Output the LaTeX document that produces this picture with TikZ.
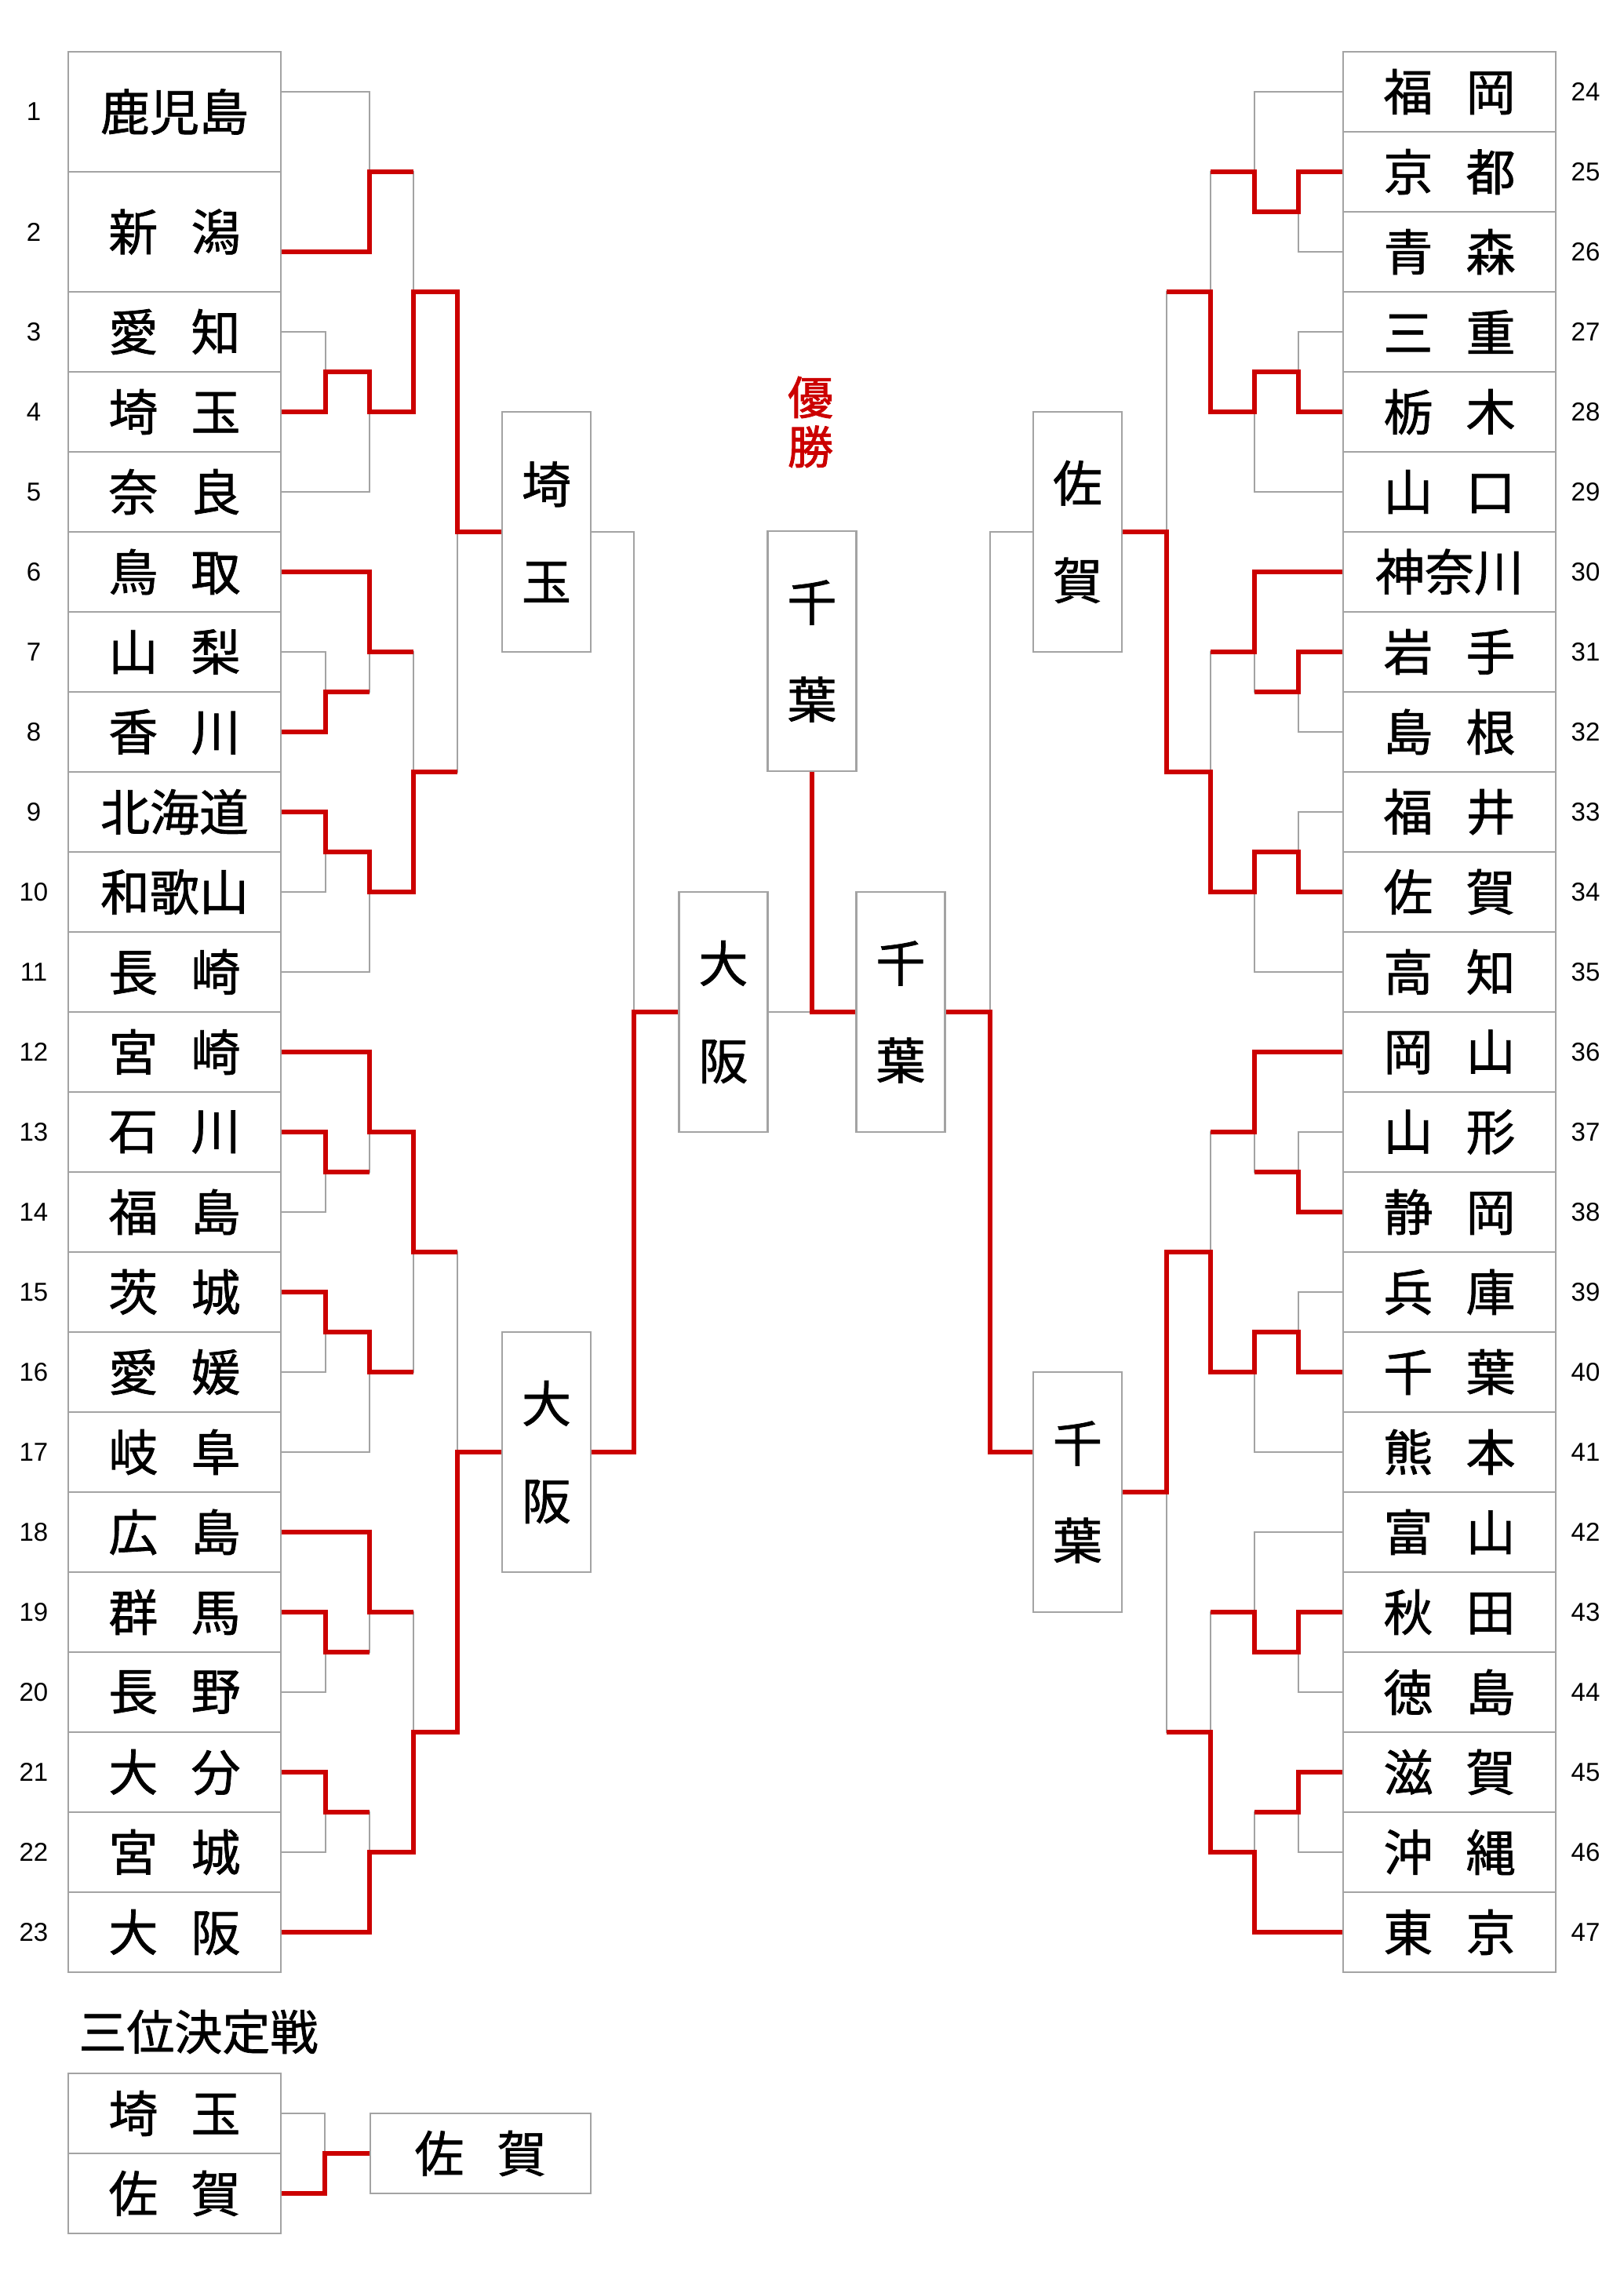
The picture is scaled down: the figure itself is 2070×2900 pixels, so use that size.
\documentclass[tikz,border=0pt]{standalone}
\usepackage{fontspec}
\setmainfont{Liberation Sans}
\newfontfamily\jp[FakeBold=1.1]{Noto Sans CJK JP}
\newfontfamily\jpb[FakeBold=1.6]{Noto Sans CJK JP}
\definecolor{linegrey}{HTML}{A3A3A3}
\definecolor{winred}{HTML}{CC0000}
\newcommand{\tgap}{\hspace{0.67em}}

\tikzset{
	team/.style={draw=linegrey, line width=1.2pt, minimum width=135.5pt, minimum height=51pt, inner sep=0pt, font=\jp\fontsize{31.5}{36}\selectfont},
	tall/.style={team, minimum height=76.5pt},
	vbox/.style={draw=linegrey, line width=1.2pt, minimum width=56.5pt, minimum height=153pt, inner sep=0pt, align=center, font=\jp\fontsize{31.5}{62}\selectfont},
	num/.style={inner sep=0pt, font=\fontsize{16.5}{18}\selectfont},
	lose/.style={draw=linegrey, line width=1.2pt},
	win/.style={draw=winred, line width=3.4pt},
}

\begin{document}
\begin{tikzpicture}[x=0.5pt, y=-0.5pt]
	\useasboundingbox (0,0) rectangle (2070,2900);

	% left block
	\node[tall] (L1) at (222.5,142.5) {鹿児島};
	\node[tall] (L2) at (222.5,295.5) {新\tgap 潟};
	\node[team] (L3) at (222.5,423) {愛\tgap 知};
	\node[team] (L4) at (222.5,525) {埼\tgap 玉};
	\node[team] (L5) at (222.5,627) {奈\tgap 良};
	\node[team] (L6) at (222.5,729) {鳥\tgap 取};
	\node[team] (L7) at (222.5,831) {山\tgap 梨};
	\node[team] (L8) at (222.5,933) {香\tgap 川};
	\node[team] (L9) at (222.5,1035) {北海道};
	\node[team] (L10) at (222.5,1137) {和歌山};
	\node[team] (L11) at (222.5,1239) {長\tgap 崎};
	\node[team] (L12) at (222.5,1341) {宮\tgap 崎};
	\node[team] (L13) at (222.5,1443) {石\tgap 川};
	\node[team] (L14) at (222.5,1545) {福\tgap 島};
	\node[team] (L15) at (222.5,1647) {茨\tgap 城};
	\node[team] (L16) at (222.5,1749) {愛\tgap 媛};
	\node[team] (L17) at (222.5,1851) {岐\tgap 阜};
	\node[team] (L18) at (222.5,1953) {広\tgap 島};
	\node[team] (L19) at (222.5,2055) {群\tgap 馬};
	\node[team] (L20) at (222.5,2157) {長\tgap 野};
	\node[team] (L21) at (222.5,2259) {大\tgap 分};
	\node[team] (L22) at (222.5,2361) {宮\tgap 城};
	\node[team] (L23) at (222.5,2463) {大\tgap 阪};

	\node[num] (N1) at (43,142.5) {1};
	\node[num] (N2) at (43,295.5) {2};
	\node[num] (N3) at (43,423) {3};
	\node[num] (N4) at (43,525) {4};
	\node[num] (N5) at (43,627) {5};
	\node[num] (N6) at (43,729) {6};
	\node[num] (N7) at (43,831) {7};
	\node[num] (N8) at (43,933) {8};
	\node[num] (N9) at (43,1035) {9};
	\node[num] (N10) at (43,1137) {10};
	\node[num] (N11) at (43,1239) {11};
	\node[num] (N12) at (43,1341) {12};
	\node[num] (N13) at (43,1443) {13};
	\node[num] (N14) at (43,1545) {14};
	\node[num] (N15) at (43,1647) {15};
	\node[num] (N16) at (43,1749) {16};
	\node[num] (N17) at (43,1851) {17};
	\node[num] (N18) at (43,1953) {18};
	\node[num] (N19) at (43,2055) {19};
	\node[num] (N20) at (43,2157) {20};
	\node[num] (N21) at (43,2259) {21};
	\node[num] (N22) at (43,2361) {22};
	\node[num] (N23) at (43,2463) {23};

	% right block
	\node[team] (R24) at (1847.5,117) {福\tgap 岡};
	\node[team] (R25) at (1847.5,219) {京\tgap 都};
	\node[team] (R26) at (1847.5,321) {青\tgap 森};
	\node[team] (R27) at (1847.5,423) {三\tgap 重};
	\node[team] (R28) at (1847.5,525) {栃\tgap 木};
	\node[team] (R29) at (1847.5,627) {山\tgap 口};
	\node[team] (R30) at (1847.5,729) {神奈川};
	\node[team] (R31) at (1847.5,831) {岩\tgap 手};
	\node[team] (R32) at (1847.5,933) {島\tgap 根};
	\node[team] (R33) at (1847.5,1035) {福\tgap 井};
	\node[team] (R34) at (1847.5,1137) {佐\tgap 賀};
	\node[team] (R35) at (1847.5,1239) {高\tgap 知};
	\node[team] (R36) at (1847.5,1341) {岡\tgap 山};
	\node[team] (R37) at (1847.5,1443) {山\tgap 形};
	\node[team] (R38) at (1847.5,1545) {静\tgap 岡};
	\node[team] (R39) at (1847.5,1647) {兵\tgap 庫};
	\node[team] (R40) at (1847.5,1749) {千\tgap 葉};
	\node[team] (R41) at (1847.5,1851) {熊\tgap 本};
	\node[team] (R42) at (1847.5,1953) {富\tgap 山};
	\node[team] (R43) at (1847.5,2055) {秋\tgap 田};
	\node[team] (R44) at (1847.5,2157) {徳\tgap 島};
	\node[team] (R45) at (1847.5,2259) {滋\tgap 賀};
	\node[team] (R46) at (1847.5,2361) {沖\tgap 縄};
	\node[team] (R47) at (1847.5,2463) {東\tgap 京};

	\node[num] (N24) at (2021,117) {24};
	\node[num] (N25) at (2021,219) {25};
	\node[num] (N26) at (2021,321) {26};
	\node[num] (N27) at (2021,423) {27};
	\node[num] (N28) at (2021,525) {28};
	\node[num] (N29) at (2021,627) {29};
	\node[num] (N30) at (2021,729) {30};
	\node[num] (N31) at (2021,831) {31};
	\node[num] (N32) at (2021,933) {32};
	\node[num] (N33) at (2021,1035) {33};
	\node[num] (N34) at (2021,1137) {34};
	\node[num] (N35) at (2021,1239) {35};
	\node[num] (N36) at (2021,1341) {36};
	\node[num] (N37) at (2021,1443) {37};
	\node[num] (N38) at (2021,1545) {38};
	\node[num] (N39) at (2021,1647) {39};
	\node[num] (N40) at (2021,1749) {40};
	\node[num] (N41) at (2021,1851) {41};
	\node[num] (N42) at (2021,1953) {42};
	\node[num] (N43) at (2021,2055) {43};
	\node[num] (N44) at (2021,2157) {44};
	\node[num] (N45) at (2021,2259) {45};
	\node[num] (N46) at (2021,2361) {46};
	\node[num] (N47) at (2021,2463) {47};

	% semis, final, champion
	\node[vbox] (S1) at (696.5,678) {埼\\玉};
	\node[vbox] (S2) at (696.5,1851) {大\\阪};
	\node[vbox] (S3) at (1373.5,678) {佐\\賀};
	\node[vbox] (S4) at (1373.5,1902) {千\\葉};
	\node[vbox] (F1) at (922,1290) {大\\阪};
	\node[vbox] (F2) at (1148,1290) {千\\葉};
	\node[vbox] (C) at (1035,830) {千\\葉};
	\node[text=winred, align=center, inner sep=0pt, font=\jpb\fontsize{29}{31.5}\selectfont] (V) at (1033,538) {優\\勝};

	% third place
	\node[anchor=west, inner sep=0pt, font=\jp\fontsize{30.5}{32}\selectfont] (T0) at (100,2590) {三位決定戦};
	\node[team] (T1) at (222.5,2694) {埼\tgap 玉};
	\node[team] (T2) at (222.5,2796) {佐\tgap 賀};
	\node[team, minimum width=140.5pt] (T3) at (612.5,2745) {佐\tgap 賀};

	% round columns
	\coordinate (LA) at (415,0);
	\coordinate (LB) at (471,0);
	\coordinate (LC) at (527,0);
	\coordinate (LD) at (583,0);
	\coordinate (RA) at (1655,0);
	\coordinate (RB) at (1599,0);
	\coordinate (RC) at (1543,0);
	\coordinate (RD) at (1487,0);

	% left joins
	\coordinate (la1) at (415,474);
	\coordinate (la2) at (415,882);
	\coordinate (la3) at (415,1086);
	\coordinate (la4) at (415,1494);
	\coordinate (la5) at (415,1698);
	\coordinate (la6) at (415,2106);
	\coordinate (la7) at (415,2310);
	\coordinate (lb1) at (471,219);
	\coordinate (lb2) at (471,525);
	\coordinate (lb3) at (471,831);
	\coordinate (lb4) at (471,1137);
	\coordinate (lb5) at (471,1443);
	\coordinate (lb6) at (471,1749);
	\coordinate (lb7) at (471,2055);
	\coordinate (lb8) at (471,2361);
	\coordinate (lc1) at (527,372);
	\coordinate (lc2) at (527,984);
	\coordinate (lc3) at (527,1596);
	\coordinate (lc4) at (527,2208);
	\coordinate (ld1) at (583,678);
	\coordinate (ld2) at (583,1851);

	% right joins
	\coordinate (ra1) at (1655,270);
	\coordinate (ra2) at (1655,474);
	\coordinate (ra3) at (1655,882);
	\coordinate (ra4) at (1655,1086);
	\coordinate (ra5) at (1655,1494);
	\coordinate (ra6) at (1655,1698);
	\coordinate (ra7) at (1655,2106);
	\coordinate (ra8) at (1655,2310);
	\coordinate (rb1) at (1599,219);
	\coordinate (rb2) at (1599,525);
	\coordinate (rb3) at (1599,831);
	\coordinate (rb4) at (1599,1137);
	\coordinate (rb5) at (1599,1443);
	\coordinate (rb6) at (1599,1749);
	\coordinate (rb7) at (1599,2055);
	\coordinate (rb8) at (1599,2361);
	\coordinate (rc1) at (1543,372);
	\coordinate (rc2) at (1543,984);
	\coordinate (rc3) at (1543,1596);
	\coordinate (rc4) at (1543,2208);
	\coordinate (rd1) at (1487,678);
	\coordinate (rd2) at (1487,1902);

	\coordinate (f1) at (808,1290);
	\coordinate (f2) at (1262,1290);
	\coordinate (w) at (1035,1290);
	\coordinate (t1) at (414,2745);

	% losers
	\draw[lose] (L3.east) -| (la1);
	\draw[lose] (L7.east) -| (la2);
	\draw[lose] (L10.east) -| (la3);
	\draw[lose] (L14.east) -| (la4);
	\draw[lose] (L16.east) -| (la5);
	\draw[lose] (L20.east) -| (la6);
	\draw[lose] (L22.east) -| (la7);
	\draw[lose] ([yshift=12.75pt]L1.east) -| (lb1);
	\draw[lose] (L5.east) -| (lb2);
	\draw[lose] (la2) -| (lb3);
	\draw[lose] (L11.east) -| (lb4);
	\draw[lose] (la4) -| (lb5);
	\draw[lose] (L17.east) -| (lb6);
	\draw[lose] (la6) -| (lb7);
	\draw[lose] (la7) -| (lb8);
	\draw[lose] (lb1) -| (lc1);
	\draw[lose] (lb3) -| (lc2);
	\draw[lose] (lb6) -| (lc3);
	\draw[lose] (lb7) -| (lc4);
	\draw[lose] (lc2) -| (ld1);
	\draw[lose] (lc3) -| (ld2);

	\draw[lose] (R26.west) -| (ra1);
	\draw[lose] (R27.west) -| (ra2);
	\draw[lose] (R32.west) -| (ra3);
	\draw[lose] (R33.west) -| (ra4);
	\draw[lose] (R37.west) -| (ra5);
	\draw[lose] (R39.west) -| (ra6);
	\draw[lose] (R44.west) -| (ra7);
	\draw[lose] (R46.west) -| (ra8);
	\draw[lose] (R24.west) -| (rb1);
	\draw[lose] (R29.west) -| (rb2);
	\draw[lose] (ra3) -| (rb3);
	\draw[lose] (R35.west) -| (rb4);
	\draw[lose] (ra5) -| (rb5);
	\draw[lose] (R41.west) -| (rb6);
	\draw[lose] (R42.west) -| (rb7);
	\draw[lose] (ra8) -| (rb8);
	\draw[lose] (rb1) -| (rc1);
	\draw[lose] (rb3) -| (rc2);
	\draw[lose] (rb5) -| (rc3);
	\draw[lose] (rb7) -| (rc4);
	\draw[lose] (rc1) -| (rd1);
	\draw[lose] (rc4) -| (rd2);

	\draw[lose] (S1.east) -| (f1);
	\draw[lose] (S3.west) -| (f2);
	\draw[lose] (F1.east) -- (w);
	\draw[lose] (T1.east) -| (t1);

	% winners
	\draw[win] ([yshift=-12.75pt]L2.east) -| (lb1) -- (lb1 -| LC);
	\draw[win] (L4.east) -| (la1) -| (lb2) -| (lc1) -| (ld1) -- (S1.west);
	\draw[win] (L8.east) -| (la2) -- (la2 -| LB);
	\draw[win] (L6.east) -| (lb3) -- (lb3 -| LC);
	\draw[win] (L9.east) -| (la3) -| (lb4) -| (lc2) -- (lc2 -| LD);
	\draw[win] (L13.east) -| (la4) -- (la4 -| LB);
	\draw[win] (L12.east) -| (lb5) -| (lc3) -- (lc3 -| LD);
	\draw[win] (L15.east) -| (la5) -| (lb6) -- (lb6 -| LC);
	\draw[win] (L19.east) -| (la6) -- (la6 -| LB);
	\draw[win] (L18.east) -| (lb7) -- (lb7 -| LC);
	\draw[win] (L21.east) -| (la7) -- (la7 -| LB);
	\draw[win] (L23.east) -| (lb8) -| (lc4) -| (ld2) -- (S2.west);

	\draw[win] (R25.west) -| (ra1) -| (rb1) -- (rb1 -| RC);
	\draw[win] (R28.west) -| (ra2) -| (rb2) -| (rc1) -- (rc1 -| RD);
	\draw[win] (R30.west) -| (rb3) -- (rb3 -| RC);
	\draw[win] (R31.west) -| (ra3) -- (ra3 -| RB);
	\draw[win] (R34.west) -| (ra4) -| (rb4) -| (rc2) -| (rd1) -- (S3.east);
	\draw[win] (R36.west) -| (rb5) -- (rb5 -| RC);
	\draw[win] (R38.west) -| (ra5) -- (ra5 -| RB);
	\draw[win] (R40.west) -| (ra6) -| (rb6) -| (rc3) -| (rd2) -- (S4.east);
	\draw[win] (R43.west) -| (ra7) -| (rb7) -- (rb7 -| RC);
	\draw[win] (R45.west) -| (ra8) -- (ra8 -| RB);
	\draw[win] (R47.west) -| (rb8) -| (rc4) -- (rc4 -| RD);

	\draw[win] (S2.east) -| (f1) -- (F1.west);
	\draw[win] ([yshift=25.5pt]S4.west) -| (f2) -- (F2.east);
	\draw[win] (F2.west) -- (w) -- (C.south);
	\draw[win] (T2.east) -| (t1) -- (T3.west);
\end{tikzpicture}
\end{document}
